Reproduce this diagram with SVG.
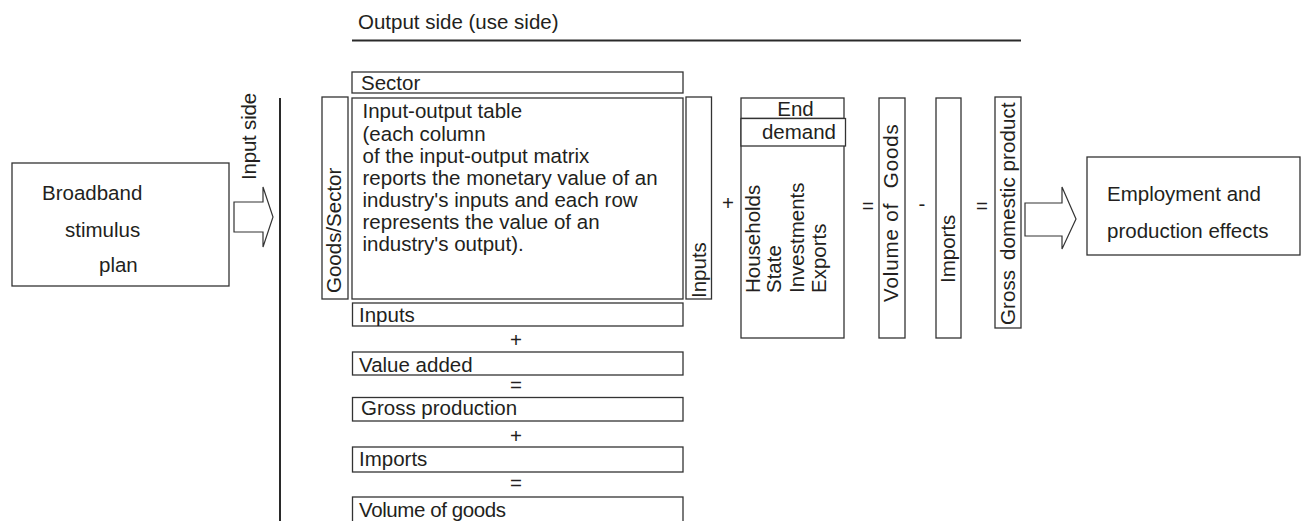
<svg xmlns="http://www.w3.org/2000/svg" width="1303" height="521" viewBox="0 0 1303 521">
<style>
  .box { fill: #ffffff; stroke: #333333; stroke-width: 1.3; }
  .arrow { fill: #ffffff; stroke: #333333; stroke-width: 1.2; stroke-linejoin: miter; }
  .rule { stroke: #2a2a2a; stroke-width: 2; fill: none; }
  text { font-family: "Liberation Sans", Arial, sans-serif; font-size: 20.5px; fill: #231f20; }
  .op { text-anchor: middle; }
</style>
<rect width="1303" height="521" fill="#ffffff"/>

<g id="headers">
  <text x="358" y="29" font-size="21">Output side (use side)</text>
  <line class="rule" x1="352" y1="40.5" x2="1021" y2="40.5"/>
  <text transform="translate(256,180) rotate(-90)" letter-spacing="-0.2">Input side</text>
  <line class="rule" x1="280" y1="98" x2="280" y2="521"/>
</g>

<g id="stimulus">
  <rect class="box" x="12" y="163" width="217" height="123"/>
  <text x="42" y="200">Broadband</text>
  <text x="65" y="237">stimulus</text>
  <text x="99" y="272">plan</text>
</g>

<g id="sector">
  <rect class="box" x="352" y="72" width="331" height="21"/>
  <text x="361" y="90">Sector</text>
</g>

<g id="goods-sector">
  <rect class="box" x="322" y="97" width="26" height="202"/>
  <text transform="translate(341,293) rotate(-90)">Goods/Sector</text>
</g>

<g id="io-table">
  <rect class="box" x="352" y="98" width="331" height="201"/>
  <text x="362.5" y="118">Input-output table</text>
  <text x="362.5" y="140.5">(each column</text>
  <text x="362.5" y="162.5">of the input-output matrix</text>
  <text x="362.5" y="184.5">reports the monetary value of an</text>
  <text x="362.5" y="207">industry's inputs and each row</text>
  <text x="362.5" y="229">represents the value of an</text>
  <text x="362.5" y="251">industry's output).</text>
</g>

<g id="inputs-col">
  <rect class="box" x="686" y="97" width="25.5" height="202"/>
  <text transform="translate(706,298) rotate(-90)">Inputs</text>
</g>

<g id="end-demand">
  <rect class="box" x="741" y="98" width="103" height="240"/>
  <line class="box" x1="741" y1="118.5" x2="844" y2="118.5"/>
  <text x="795.5" y="116" class="op">End</text>
  <rect class="box" x="741" y="118.5" width="104.5" height="27.5"/>
  <text x="836" y="138.5" text-anchor="end">demand</text>
  <text transform="translate(760,293) rotate(-90)">Households</text>
  <text transform="translate(781,293) rotate(-90)">State</text>
  <text transform="translate(804,293) rotate(-90)">Investments</text>
  <text transform="translate(826,293) rotate(-90)">Exports</text>
</g>

<g id="volume-col">
  <rect class="box" x="879" y="98" width="26" height="240"/>
  <text transform="translate(898,302) rotate(-90)" letter-spacing="0.9">Volume of <tspan dx="8">Goods</tspan></text>
</g>

<g id="imports-col">
  <rect class="box" x="936" y="98" width="25" height="240"/>
  <text transform="translate(955,283) rotate(-90)">Imports</text>
</g>

<g id="gdp-col">
  <rect class="box" x="995" y="97" width="26" height="231"/>
  <text transform="translate(1014.5,325) rotate(-90)" letter-spacing="0.1">Gross <tspan dx="4">domestic</tspan> product</text>
</g>

<g id="effects">
  <rect class="box" x="1087" y="157" width="213" height="98"/>
  <text x="1107" y="201">Employment and</text>
  <text x="1107" y="238">production effects</text>
</g>

<g id="stack-inputs">
  <rect class="box" x="352.5" y="303" width="330.5" height="23"/>
  <text x="359" y="322">Inputs</text>
</g>
<g id="stack-value-added">
  <rect class="box" x="352.5" y="352" width="330.5" height="23"/>
  <text x="359" y="372">Value added</text>
</g>
<g id="stack-gross-production">
  <rect class="box" x="352.5" y="397.5" width="330.5" height="23.5"/>
  <text x="361" y="415">Gross production</text>
</g>
<g id="stack-imports">
  <rect class="box" x="352.5" y="447" width="330.5" height="25"/>
  <text x="359" y="466">Imports</text>
</g>
<g id="stack-volume">
  <rect class="box" x="352.5" y="497" width="330.5" height="30"/>
  <text x="359" y="517" letter-spacing="-0.4">Volume of goods</text>
</g>

<g id="operators">
  <text class="op" x="516" y="347">+</text>
  <text class="op" x="516" y="392">=</text>
  <text class="op" x="516" y="443">+</text>
  <text class="op" x="516" y="490">=</text>
  <text class="op" x="728" y="210">+</text>
  <text class="op" x="868" y="213">=</text>
  <text class="op" x="922" y="211">-</text>
  <text class="op" x="982" y="213">=</text>
</g>

<g id="connectors">
  <polygon class="arrow" points="234,202 263,202 263,187 273,217 263,247 263,232 234,232"/>
  <polygon class="arrow" points="1025,203 1062,203 1062,187 1076,219 1062,249 1062,236 1025,236"/>
</g>
</svg>
